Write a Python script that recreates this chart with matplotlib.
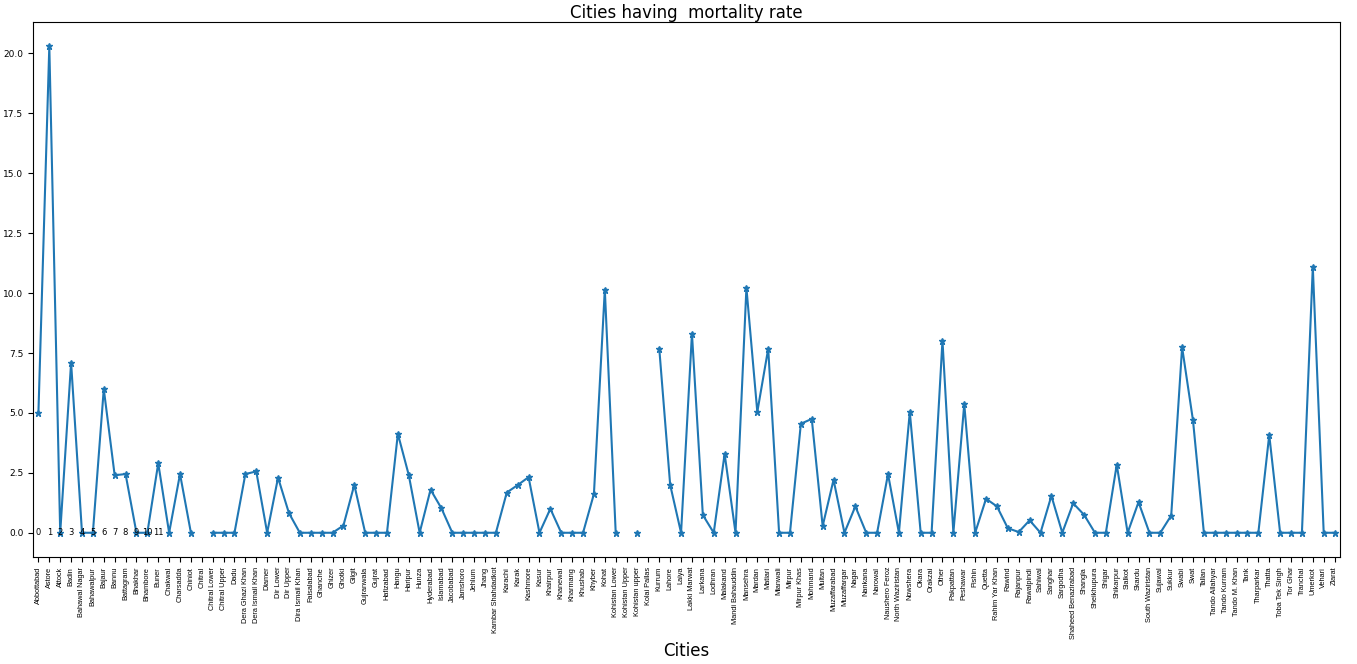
import numpy as np
import matplotlib.pyplot as plt

cities = [
    "Abbottabad", "Astore", "Attock", "Badin", "Bahawal Nagar", "Bahawalpur",
    "Bajaur", "Bannu", "Battagram", "Bhakhar", "Bhambore", "Buner", "Chakwal",
    "Charsadda", "Chiniot", "Chitral", "Chitral Lower", "Chitral Upper", "Dadu",
    "Dera Ghazi Khan", "Dera Ismail Khan", "Diamer", "Dir Lower", "Dir Upper",
    "Dira Ismail Khan", "Faisalabad", "Ghanche", "Ghizer", "Ghotki", "Gilgit",
    "Gujranwala", "Gujrat", "Hafizabad", "Hangu", "Haripur", "Hunza",
    "Hyderabad", "Islamabad", "Jacobabad", "Jamshoro", "Jehlum", "Jhang",
    "Kambar Shahdadkot", "Karachi", "Karak", "Kashmore", "Kasur", "Khairpur",
    "Khanewal", "Kharmang", "Khushab", "Khyber", "Kohat", "Kohistan Lower",
    "Kohistan Upper", "Kohistan upper", "Kolai Pallas", "Kurrum", "Lahore",
    "Laiya", "Lakki Marwat", "Larkana", "Lodhran", "Malakand",
    "Mandi Bahauddin", "Mansehra", "Mardan", "Matiari", "Mianwali", "Mirpur",
    "Mirpur Khas", "Mohmand", "Multan", "Muzaffarabad", "Muzaffargar", "Nagar",
    "Nankana", "Narowal", "Naushero Feroz", "North Waziristan", "Nowshera",
    "Okara", "Orakzai", "Other", "Pakpattan", "Peshawar", "Pishin", "Quetta",
    "Rahim Yar Khan", "Rawind", "Rajanpur", "Rawalpindi", "Sahiwal", "Sanghar",
    "Sargodha", "Shaheed Benazirabad", "Shangla", "Sheikhupura", "Shigar",
    "Shikarpur", "Sialkot", "Skardu", "South Waziristan", "Sujawal", "Sukkur",
    "Swabi", "Swat", "Tallan", "Tando Allahyar", "Tando Kurram",
    "Tando M. Khan", "Tank", "Tharparkar", "Thatta", "Toba Tek Singh",
    "Tor Ghar", "Tranchal", "Umerkot", "Vehari", "Ziarat",
]

# mortality rate per city (NaN where no rate was available)
nan = np.nan
mortality = [
    5.0, 20.3, 0.0, 7.1, 0.0, 0.0, 6.0, 2.4, 2.45, 0.0,
    0.0, 2.9, 0.0, 2.45, 0.0, nan, 0.0, 0.0, 0.0, 2.45,
    2.56, 0.0, 2.3, 0.82, 0.0, 0.0, 0.0, 0.0, 0.3, 2.0,
    0.0, 0.0, 0.0, 4.13, 2.41, 0.0, 1.8, 1.02, 0.0, 0.0,
    0.0, 0.0, 0.0, 1.68, 1.99, 2.32, 0.0, 1.0, 0.0, 0.0,
    0.0, 1.62, 10.15, 0.0, nan, 0.0, nan, 7.68, 2.0, 0.0,
    8.31, 0.74, 0.0, 3.29, 0.0, 10.22, 5.04, 7.68, 0.0, 0.0,
    4.55, 4.75, 0.28, 2.21, 0.0, 1.1, 0.0, 0.0, 2.45, 0.0,
    5.04, 0.0, 0.0, 8.02, 0.0, 5.37, 0.0, 1.42, 1.1, 0.19,
    0.03, 0.52, 0.0, 1.54, 0.0, 1.23, 0.75, 0.0, 0.0, 2.84,
    0.0, 1.28, 0.0, 0.0, 0.72, 7.74, 4.69, 0.0, 0.0, 0.0,
    0.0, 0.0, 0.0, 4.08, 0.0, 0.0, 0.0, 11.09, 0.0, 0.0,
]

# row numbers printed along the baseline
row_ids = list(range(12))

fig = plt.figure(figsize=(13.57, 6.64), dpi=100)
ax = fig.add_axes([0.0243, 0.161, 0.9632, 0.806])

x = np.arange(len(cities))
ax.plot(x, mortality, marker="*", markersize=5, color="#1f77b4", linewidth=1.5)

for i in row_ids:
    ax.text(i, 0, str(i), fontsize=6, color="black", ha="center", va="center")

ax.set_xticks(x)
ax.set_xticklabels(cities, rotation=90, fontsize=5.3, family="Liberation Sans")
ax.tick_params(axis="y", labelsize=6.5)
ax.set_xlim(-0.5, len(cities) - 0.5)

ax.set_title("Cities having  mortality rate", fontsize=12, pad=2)
ax.set_xlabel("Cities", fontsize=12, labelpad=2)

fig.savefig("out.png", dpi=100)
